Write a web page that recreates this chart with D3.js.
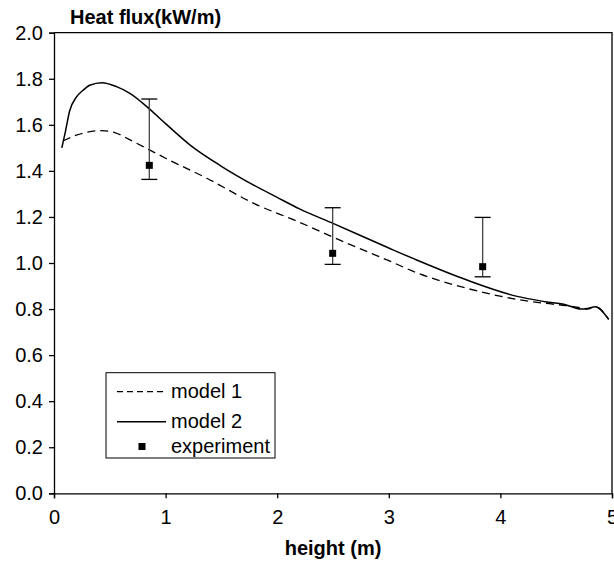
<!DOCTYPE html>
<html>
<head>
<meta charset="utf-8">
<script src="https://cdn.jsdelivr.net/npm/d3@7/dist/d3.min.js"></script>
<style>
  html, body { margin: 0; padding: 0; background: #fff; }
  svg { display: block; }
  text { font-family: "Liberation Sans", Arial, sans-serif; fill: #000; }
</style>
</head>
<body>
<svg id="chart" width="614" height="565"></svg>
<script>
// ---- data ----
const model1 = [
  [0.08,1.530],[0.20,1.555],[0.30,1.568],[0.43,1.575],[0.55,1.565],[0.70,1.530],
  [0.86,1.490],[1.00,1.455],[1.37,1.368],[1.79,1.259],[2.20,1.177],[2.50,1.112],
  [3.00,1.010],[3.25,0.958],[3.70,0.890],[4.15,0.842],[4.40,0.825],[4.59,0.815],
  [4.72,0.805],[4.78,0.800],[4.85,0.810],[4.97,0.755]
];
const model2 = [
  [0.07,1.500],[0.10,1.565],[0.14,1.660],[0.20,1.720],[0.26,1.750],[0.32,1.772],
  [0.43,1.783],[0.56,1.766],[0.68,1.737],[0.86,1.667],[1.00,1.605],[1.22,1.512],
  [1.50,1.420],[1.76,1.346],[2.00,1.285],[2.20,1.235],[2.50,1.172],[3.00,1.065],
  [3.25,1.013],[3.70,0.926],[4.15,0.855],[4.40,0.832],[4.59,0.818],[4.72,0.800],
  [4.78,0.803],[4.85,0.810],[4.97,0.755]
];
const expX = [0.854, 2.497, 3.841];
const expY = [1.424, 1.042, 0.984];
const expHi = [1.712, 1.240, 1.198];
const expLo = [1.363, 0.994, 0.940];
const xTicks = [0,1,2,3,4,5];
const yTicks = [0,0.2,0.4,0.6,0.8,1.0,1.2,1.4,1.6,1.8,2.0];
const legendLabels = ["model 1","model 2","experiment"];
const yTitle = "Heat flux(kW/m)";
const xTitle = "height (m)";

// ---- chart ----
const FS = 20;
const svg = d3.select("#chart");
const x = d3.scaleLinear().domain([0,5]).range([54,612]);
const y = d3.scaleLinear().domain([0,2]).range([493.3,32.7]);

// frame (top & right)
svg.append("path")
  .attr("d", `M${x(0)},${y(2)}H${x(5)}V${y(0)}`)
  .attr("fill","none").attr("stroke","#000").attr("stroke-width",1.3);

const yAxis = svg.append("g").attr("transform",`translate(${x(0)},0)`)
  .call(d3.axisLeft(y).tickValues(yTicks).tickFormat(d3.format(".1f")).tickSize(5).tickPadding(6));
const xAxis = svg.append("g").attr("transform",`translate(0,${y(0)})`)
  .call(d3.axisBottom(x).tickValues(xTicks).tickFormat(d3.format("d")).tickSize(5).tickPadding(12));
[yAxis, xAxis].forEach(g => {
  g.select(".domain").attr("stroke","#000").attr("stroke-width",1.3);
  g.selectAll(".tick line").attr("stroke","#000").attr("stroke-width",1.3);
  g.selectAll(".tick text").attr("font-size",FS).attr("font-family","Liberation Sans, Arial, sans-serif").attr("fill","#000");
});

const line = d3.line().x(d=>x(d[0])).y(d=>y(d[1])).curve(d3.curveMonotoneX);
svg.append("path").datum(model1).attr("d",line)
  .attr("fill","none").attr("stroke","#000").attr("stroke-width",1.3).attr("stroke-dasharray","8,5");
svg.append("path").datum(model2).attr("d",line)
  .attr("fill","none").attr("stroke","#000").attr("stroke-width",1.5);

// experiment with error bars
const eg = svg.append("g");
expX.forEach((v,i) => {
  const cx = x(v);
  eg.append("line").attr("x1",cx).attr("x2",cx).attr("y1",y(expHi[i])).attr("y2",y(expLo[i]))
    .attr("stroke","#444").attr("stroke-width",1.3);
  [expHi[i], expLo[i]].forEach(b => {
    eg.append("line").attr("x1",cx-8).attr("x2",cx+8).attr("y1",y(b)).attr("y2",y(b))
      .attr("stroke","#000").attr("stroke-width",1.3);
  });
  eg.append("rect").attr("x",cx-3.5).attr("y",y(expY[i])-3.5).attr("width",7).attr("height",7).attr("fill","#000");
});

// titles
svg.append("text").attr("x",70).attr("y",24).attr("font-size",FS).attr("font-weight","bold").text(yTitle);
svg.append("text").attr("x",(x(0)+x(5))/2).attr("y",555).attr("text-anchor","middle")
  .attr("font-size",FS).attr("font-weight","bold").text(xTitle);

// legend
const lg = svg.append("g");
lg.append("rect").attr("x",106).attr("y",372.7).attr("width",169).attr("height",85.3)
  .attr("fill","#fff").attr("stroke","#000").attr("stroke-width",1);
const rowsY = [391.7, 421.7, 446.5];
lg.append("line").attr("x1",117).attr("x2",166).attr("y1",rowsY[0]).attr("y2",rowsY[0])
  .attr("stroke","#000").attr("stroke-width",1.2).attr("stroke-dasharray","6,4");
lg.append("line").attr("x1",117).attr("x2",166).attr("y1",rowsY[1]).attr("y2",rowsY[1])
  .attr("stroke","#000").attr("stroke-width",1.5);
lg.append("rect").attr("x",138.5).attr("y",rowsY[2]-3.5).attr("width",7).attr("height",7).attr("fill","#000");
legendLabels.forEach((t,i) => {
  lg.append("text").attr("x",171).attr("y",rowsY[i]+6.5).attr("font-size",FS).text(t);
});
</script>
</body>
</html>
